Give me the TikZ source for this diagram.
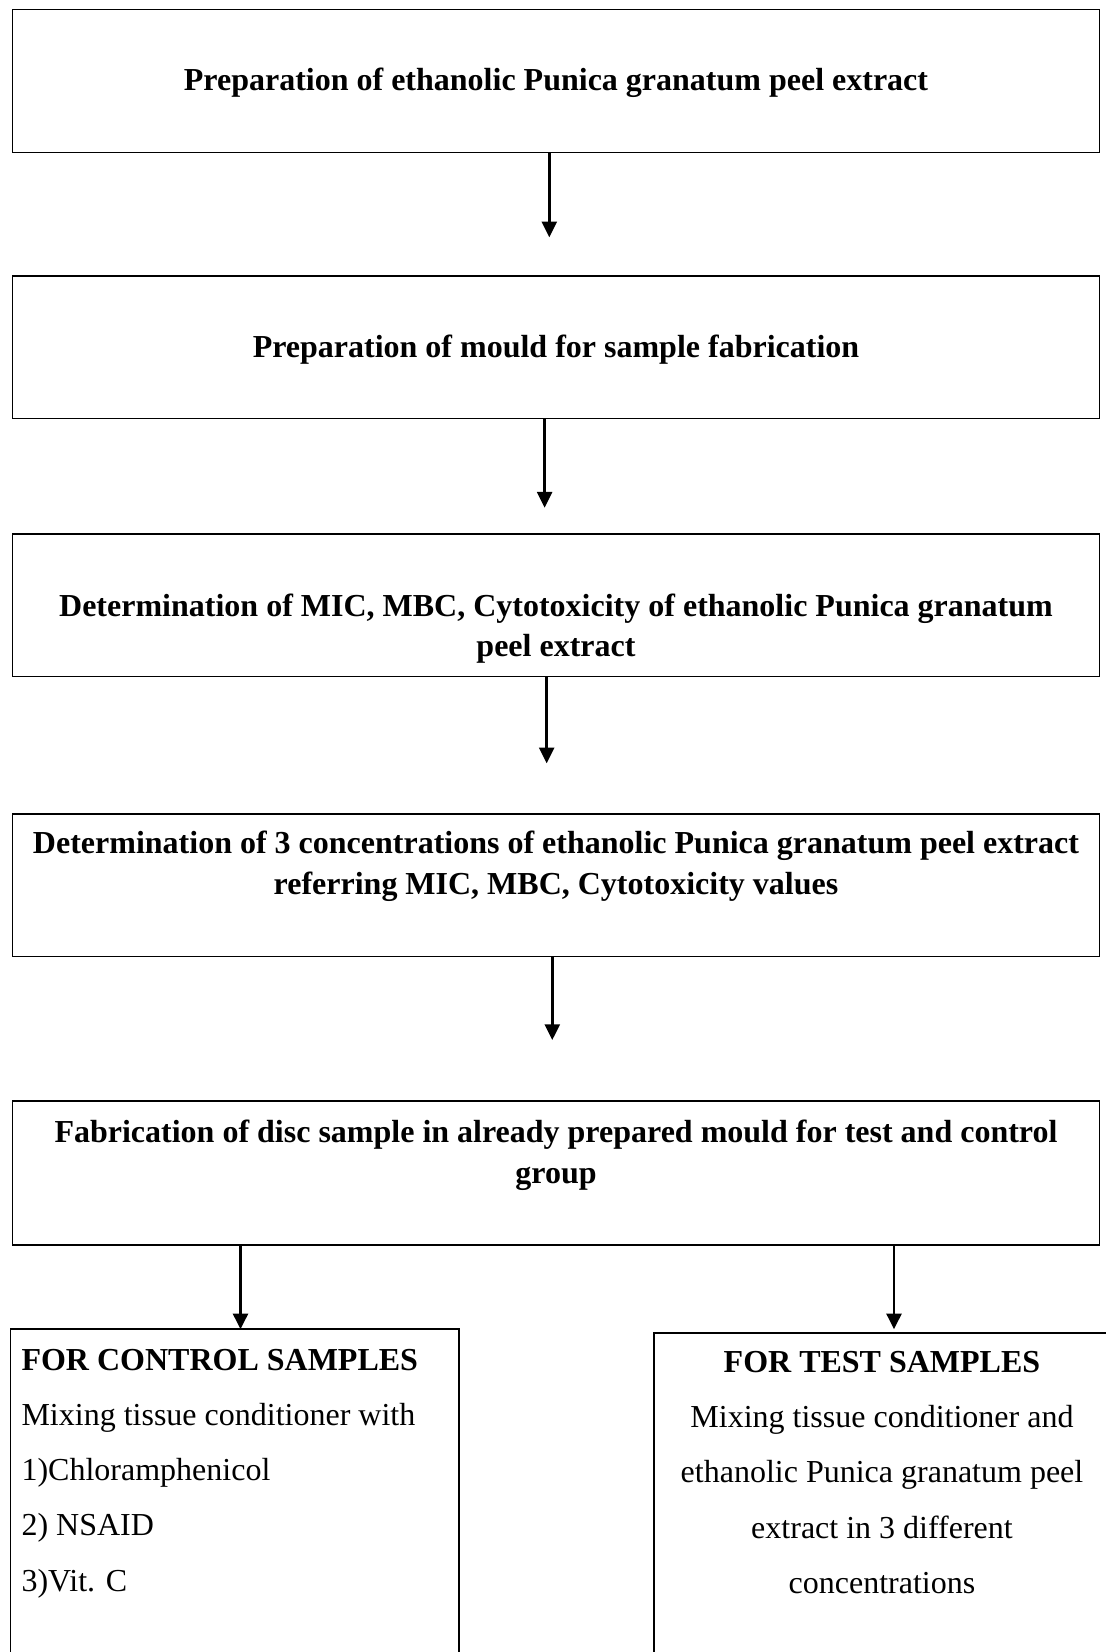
\documentclass[tikz,border=0pt]{standalone}
\usepackage{fontspec}
\setmainfont{Liberation Serif}
\usetikzlibrary{arrows.meta,positioning}
\tikzset{every picture/.style={font issue=\fontsize{12}{15.26}\selectfont},
         font issue/.style={execute at begin picture={#1}},
         procbox/.style={draw,line width=0.5pt,inner sep=0pt,outer sep=0pt,minimum width=407.6pt},
         sidebox/.style={draw,line width=0.5pt,inner sep=0pt,outer sep=0pt},
         steptext/.style={font=\bfseries,align=center,anchor=base,inner sep=0pt},
         sidetext/.style={font=\fontsize{12}{20.72}\selectfont,inner sep=0pt},
         flowarrow/.style={-{Triangle[length=5.9pt,width=5.6pt]},line width=1pt}
        }
\begin{document}
\begin{tikzpicture}[x=0.375pt,y=-0.375pt]
    \clip (0,0) rectangle (1106,1652);
    % boxes
    \node[procbox,minimum height=53.6pt] at (556,80.8) (extract){};
    \node[procbox,minimum height=53.4pt] at (556,347.2) (mould){};
    \node[procbox,minimum height=53.5pt] at (556,605.3) (mic){};
    \node[procbox,minimum height=53.5pt] at (556,885.3) (conc){};
    \node[procbox,minimum height=54pt] at (556,1173) (disc){};
    \node[sidebox,minimum width=168.2pt,minimum height=139.1pt] at (234.75,1514.5) (control){};
    \node[sidebox,minimum width=174.75pt,minimum height=137.6pt] at (887,1516.5) (test){};

    % texts (base = last line)
    \node[steptext] at (556,90.7) (extract_t){Preparation of ethanolic Punica granatum peel extract};
    \node[steptext] at (556,357.3) (mould_t){Preparation of mould for sample fabrication};
    \node[steptext] at (556,656.7) (mic_t){Determination of MIC, MBC, Cytotoxicity of ethanolic Punica granatum\\peel extract};
    \node[steptext] at (556,894) (conc_t){Determination of 3 concentrations of ethanolic Punica granatum peel extract\\referring MIC, MBC, Cytotoxicity values};
    \node[steptext] at (556,1183.5) (disc_t){Fabrication of disc sample in already prepared mould for test and control\\group};
    \node[sidetext,anchor=base west,align=left] at (21,1591) (control_t){\textbf{FOR CONTROL SAMPLES}\\Mixing tissue conditioner with\\1)Chloramphenicol\\2) NSAID\\3)Vit. C};
    \node[sidetext,anchor=base,align=center] at (882,1593.3) (test_t){\textbf{FOR TEST SAMPLES}\\Mixing tissue conditioner and\\ethanolic Punica granatum peel\\extract in 3 different\\concentrations};

    % arrows
    \coordinate (a_1) at (549.3,237.3);
    \coordinate (a_2) at (544.6,507.7);
    \coordinate (a_3) at (546.7,763.3);
    \coordinate (a_4) at (552.3,1040);
    \coordinate (a_l) at (240.5,1329.3);
    \coordinate (a_r) at (894,1329.3);
    \draw[flowarrow] (extract.south -| a_1) -- (a_1);
    \draw[flowarrow] (mould.south -| a_2) -- (a_2);
    \draw[flowarrow] (mic.south -| a_3) -- (a_3);
    \draw[flowarrow] (conc.south -| a_4) -- (a_4);
    \draw[flowarrow] (disc.south -| a_l) -- (a_l);
    \draw[flowarrow] (disc.south -| a_r) -- (a_r);
\end{tikzpicture}
\end{document}
